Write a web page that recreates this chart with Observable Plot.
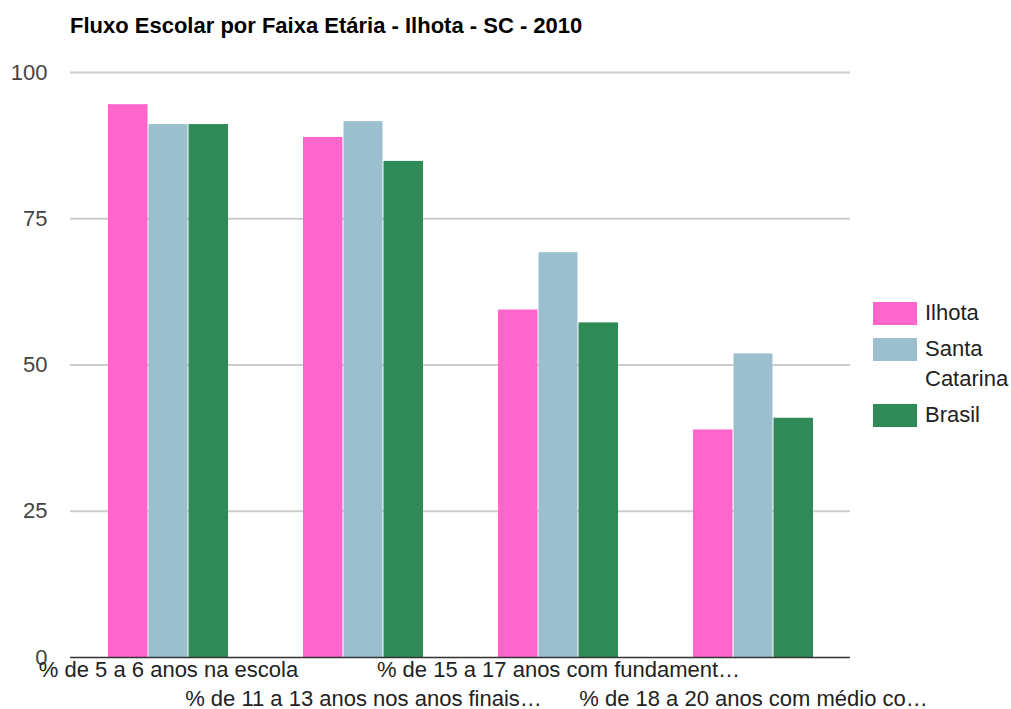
<!DOCTYPE html>
<html>
<head>
<meta charset="utf-8">
<script src="https://cdn.jsdelivr.net/npm/d3@7"></script>
<script src="https://cdn.jsdelivr.net/npm/@observablehq/plot@0.6"></script>
<style>
  html, body { margin: 0; padding: 0; background: #fff; }
  #wrap { position: relative; width: 1011px; height: 709px; font-family: "Liberation Sans", Arial, sans-serif; }
  #title { position: absolute; left: 70px; top: 15px; font-size: 22px; line-height: 22px; font-weight: bold; color: #000; white-space: nowrap; }
  #chart { position: absolute; left: 0; top: 50px; }
  #legend { position: absolute; left: 873px; top: 298px; font-size: 22px; color: #222; }
  .item { display: flex; align-items: flex-start; margin-bottom: 6px; }
  .sw { width: 44px; height: 23px; margin-top: 4px; margin-right: 8px; flex: none; }
  .lab { width: 90px; line-height: 30px; }
</style>
</head>
<body>
<div id="wrap">
  <div id="title">Fluxo Escolar por Faixa Etária - Ilhota - SC - 2010</div>
  <div id="chart"></div>
  <div id="legend"></div>
</div>
<script>
const categories = [
  "% de 5 a 6 anos na escola",
  "% de 11 a 13 anos nos anos finais…",
  "% de 15 a 17 anos com fundament…",
  "% de 18 a 20 anos com médio co…"
];
const series = ["Ilhota", "Santa Catarina", "Brasil"];
const ilhota = [94.5, 88.9, 59.4, 38.9];
const santaCatarina = [91.1, 91.6, 69.2, 51.9];
const brasil = [91.1, 84.8, 57.2, 40.9];
const colors = ["#ff66cc", "#9bbfce", "#2e8b57"];
const yTicks = [0, 25, 50, 75, 100];

const valuesBySeries = [ilhota, santaCatarina, brasil];
const data = [];
series.forEach((s, i) => categories.forEach((c, j) => data.push({cat: c, series: s, value: valuesBySeries[i][j]})));

const groupWidth = 120; // band width of each category group (px)
const barW = groupWidth / series.length;

const barMarks = series.map((s, i) =>
  Plot.barY(data.filter(d => d.series === s), {
    x: "cat", y: "value", fill: "series",
    insetLeft: i * barW + (i > 0 ? 0.5 : 0),
    insetRight: (series.length - 1 - i) * barW + (i < series.length - 1 ? 0.5 : 0)
  })
);

const chart = Plot.plot({
  width: 1011,
  height: 659,
  marginTop: 22,
  marginBottom: 52,
  marginLeft: 70,
  marginRight: 161,
  style: {fontFamily: '"Liberation Sans", Arial, sans-serif', fontSize: "22px", background: "transparent", overflow: "visible"},
  x: {domain: categories, paddingInner: 0.385, paddingOuter: 0.1925, axis: null},
  y: {domain: [0, 100], axis: null},
  color: {domain: series, range: colors},
  marks: [
    Plot.ruleY(yTicks.filter(d => d > 0), {stroke: "#cccccc", strokeWidth: 1.8}),
    ...barMarks,
    Plot.ruleY([0], {stroke: "#333333", strokeWidth: 1.6}),
    Plot.text(yTicks, {y: d => d, text: d => String(d), frameAnchor: "left", dx: -23, textAnchor: "end", fill: "#444", fontSize: 22}),
    Plot.text(categories.filter((d, i) => i % 2 === 0), {x: d => d, text: d => d, frameAnchor: "bottom", lineAnchor: "middle", dy: 12, fill: "#222", fontSize: 22}),
    Plot.text(categories.filter((d, i) => i % 2 === 1), {x: d => d, text: d => d, frameAnchor: "bottom", lineAnchor: "middle", dy: 41, fill: "#222", fontSize: 22})
  ]
});
document.getElementById("chart").appendChild(chart);

const legend = document.getElementById("legend");
series.forEach((s, i) => {
  const item = document.createElement("div");
  item.className = "item";
  const sw = document.createElement("div");
  sw.className = "sw";
  sw.style.background = colors[i];
  const lab = document.createElement("div");
  lab.className = "lab";
  lab.textContent = s;
  item.appendChild(sw);
  item.appendChild(lab);
  legend.appendChild(item);
});
</script>
</body>
</html>
